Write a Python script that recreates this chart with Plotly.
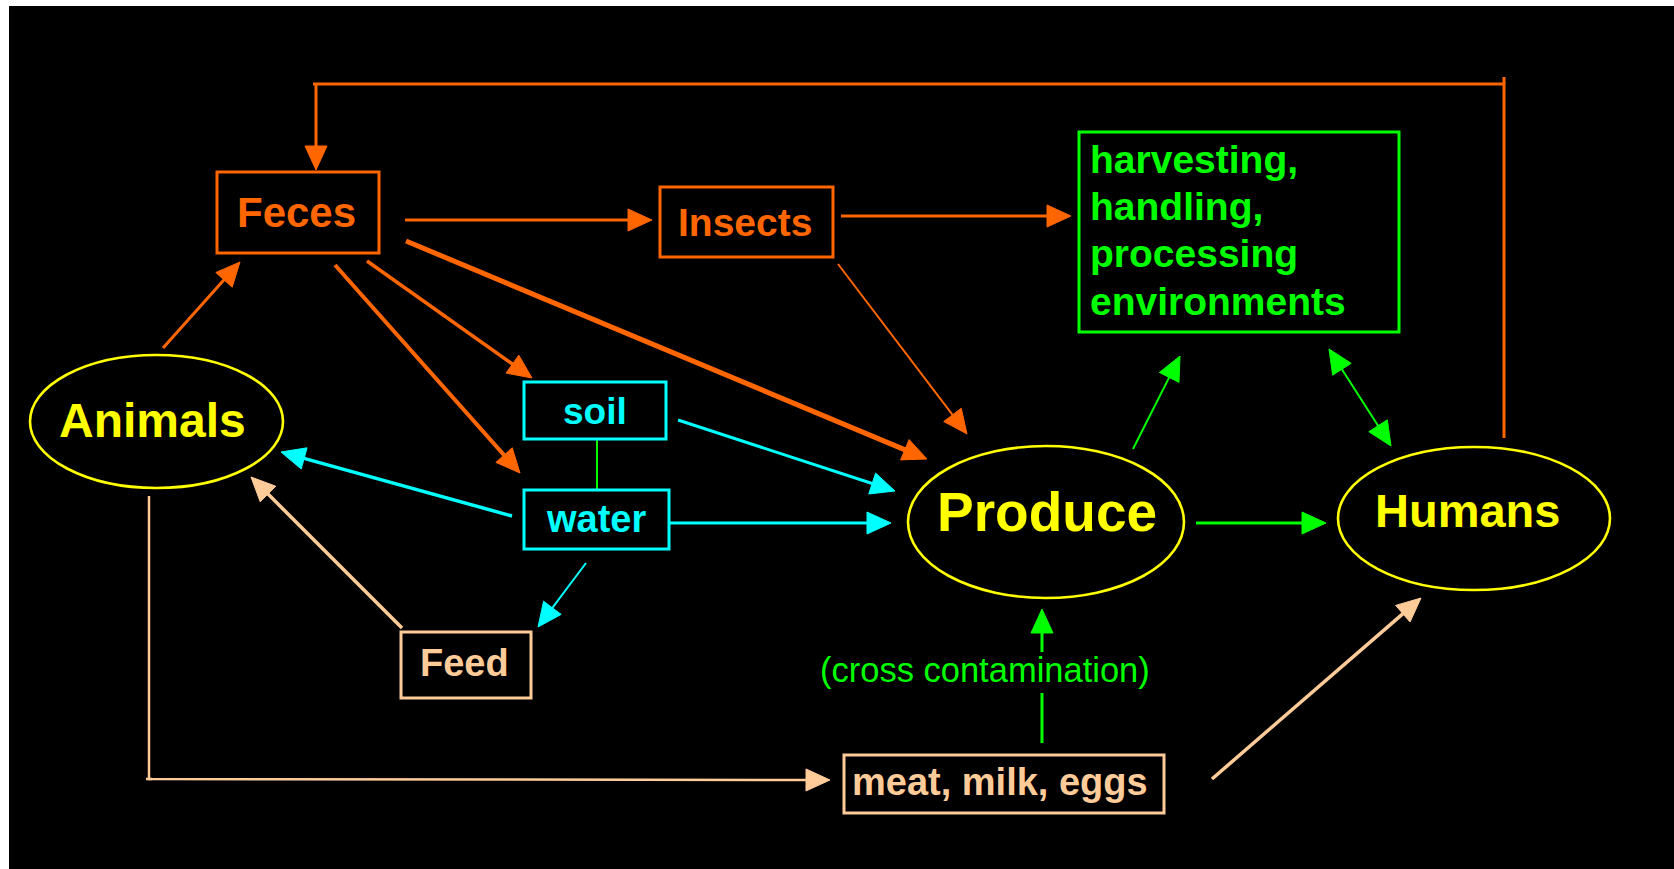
import math
import plotly.graph_objects as go

W, H = 1674, 869

ORANGE = "#FF6600"
CYAN = "#00FFFF"
PEACH = "#FFCC99"
GREEN = "#00FF00"
YELLOW = "#FFFF00"
FONT = "Liberation Sans, Arial, sans-serif"

# ---- nodes (label, colour, shape) ----
node_names = ["Feces", "Insects", "harv", "Animals", "Produce", "Humans",
              "soil", "water", "Feed", "meat"]
node_colors = [ORANGE, ORANGE, GREEN, YELLOW, YELLOW, YELLOW,
               CYAN, CYAN, PEACH, PEACH]
node_shapes = ["rect", "rect", "rect", "circle", "circle", "circle",
               "rect", "rect", "rect", "rect"]

# layout: bounding boxes of nodes (x0, y0, x1, y1) in page pixels
node_boxes = {
    "Feces": (217, 172, 379, 253),
    "Insects": (660, 187, 833, 257),
    "harv": (1079, 132, 1399, 332),
    "Animals": (30, 355, 283, 488),
    "Produce": (908, 446, 1184, 598),
    "Humans": (1338, 447, 1610, 590),
    "soil": (524, 382, 666, 439),
    "water": (524, 490, 669, 549),
    "Feed": (401, 632, 531, 698),
    "meat": (844, 755, 1164, 813),
}
node_lw = {"circle": 2.6, "rect": 3}

# ---- texts ----
text_labels = ["Feces", "Insects", "Animals", "Produce", "Humans", "soil",
               "water", "Feed", "meat, milk, eggs", "(cross contamination)"]
text_colors = [ORANGE, ORANGE, YELLOW, YELLOW, YELLOW, CYAN, CYAN, PEACH,
               PEACH, GREEN]
text_bold = [True, True, True, True, True, True, True, True, True, False]
text_pos = [(296, 212, 42), (745, 222, 39), (152, 420, 48), (1047, 512, 55),
            (1467, 510, 47), (595, 411, 37), (596, 519, 38), (464, 663, 38),
            (1000, 782, 38), (985, 670, 34.5)]

harv_lines = ["harvesting,", "handling,", "processing", "environments"]
harv_pos = [(1088, 159), (1088, 206), (1088, 253), (1088, 301)]
harv_size = 39

# ---- edges ----
edge_names = ["Animals>Feces", "Feces>Insects", "Insects>harv", "Feces>Produce",
              "Feces>soil", "Feces>water", "Insects>Produce", "soil>Produce",
              "water>Produce", "water>Animals", "water>Feed", "Feed>Animals",
              "meat>Humans", "Produce>harv", "Produce>Humans", "meat>Produce",
              "harv<>Humans", "Humans>Feces", "Animals>meat"]
edge_colors = [ORANGE, ORANGE, ORANGE, ORANGE, ORANGE, ORANGE, ORANGE,
               CYAN, CYAN, CYAN, CYAN, PEACH, PEACH,
               GREEN, GREEN, GREEN, GREEN, ORANGE, PEACH]
edge_widths = [3, 3, 3, 5, 3.5, 4, 2, 3, 3, 3.5, 2, 3.5, 3.5, 2, 3, 3, 2, 3, 2.5]
edge_heads = ["end", "end", "end", "end", "end", "end", "end", "end", "end",
              "end", "end", "end", "end", "end", "end", "end", "both", "end", "end"]

# layout: edge paths in page pixels
edge_paths = [
    [(163, 348), (240, 262)],
    [(405, 220), (652, 220)],
    [(841, 216), (1071, 216)],
    [(406, 241), (927, 459)],
    [(367, 261), (532, 378)],
    [(335, 265), (520, 473)],
    [(838, 264), (967, 434)],
    [(678, 420), (895, 491)],
    [(670, 523), (891, 523)],
    [(512, 516), (281, 452)],
    [(586, 563), (538, 627)],
    [(402, 628), (251, 477)],
    [(1212, 779), (1421, 598)],
    [(1133, 449), (1180, 356)],
    [(1196, 523), (1326, 523)],
    [(1042, 652), (1042, 609)],
    [(1329, 349), (1391, 446)],
    [(1504, 438), (1504, 84), (313, 84), (316, 84), (316, 170)],
    [(149, 496), (149, 779), (830, 780)],
]
extra_lines = [  # (path, colour, width)
    ([(1042, 693), (1042, 743)], GREEN, 3),
    ([(597, 440), (597, 490)], GREEN, 2),
    ([(1504, 77), (1504, 84)], ORANGE, 3),
    ([(146, 779), (152, 779)], PEACH, 2.5),
]
HEAD_L, HEAD_W = 24, 11

fig = go.Figure()
shapes = [dict(type="rect", xref="x", yref="y", x0=9, y0=6, x1=W + 5, y1=H + 5,
               fillcolor="black", line=dict(width=0), layer="below")]

for name, col, shp in zip(node_names, node_colors, node_shapes):
    x0, y0, x1, y1 = node_boxes[name]
    shapes.append(dict(type=shp, xref="x", yref="y", x0=x0, y0=y0, x1=x1, y1=y1,
                       line=dict(color=col, width=node_lw[shp]),
                       fillcolor="rgba(0,0,0,0)"))


def head(tip, prev):
    dx, dy = tip[0] - prev[0], tip[1] - prev[1]
    d = math.hypot(dx, dy)
    ux, uy = dx / d, dy / d
    bx, by = tip[0] - HEAD_L * ux, tip[1] - HEAD_L * uy
    px, py = -uy, ux
    return [(tip[0], tip[1]), (bx + HEAD_W * px, by + HEAD_W * py),
            (bx - HEAD_W * px, by - HEAD_W * py), (tip[0], tip[1])]


def shorten(a, b, amt):
    dx, dy = b[0] - a[0], b[1] - a[1]
    d = math.hypot(dx, dy)
    return (b[0] - amt * dx / d, b[1] - amt * dy / d)


tri = {}
for name, col, lw, hd, path in zip(edge_names, edge_colors, edge_widths,
                                   edge_heads, edge_paths):
    pts = list(path)
    heads = [head(pts[-1], pts[-2])]
    pts[-1] = shorten(pts[-2], pts[-1], HEAD_L * 0.8)
    if hd == "both":
        heads.append(head(path[0], path[1]))
        pts[0] = shorten(pts[1], pts[0], HEAD_L * 0.8)
    fig.add_trace(go.Scatter(x=[p[0] for p in pts], y=[p[1] for p in pts],
                             mode="lines", line=dict(color=col, width=lw),
                             hoverinfo="skip", showlegend=False))
    for h in heads:
        tri.setdefault(col, []).append(h)

for path, col, lw in extra_lines:
    fig.add_trace(go.Scatter(x=[p[0] for p in path], y=[p[1] for p in path],
                             mode="lines", line=dict(color=col, width=lw),
                             hoverinfo="skip", showlegend=False))

for col, hs in tri.items():
    xs, ys = [], []
    for h in hs:
        xs += [p[0] for p in h] + [None]
        ys += [p[1] for p in h] + [None]
    fig.add_trace(go.Scatter(x=xs, y=ys, mode="lines", fill="toself",
                             fillcolor=col, line=dict(color=col, width=1),
                             hoverinfo="skip", showlegend=False))

annotations = []
for lab, col, b, (x, y, s) in zip(text_labels, text_colors, text_bold, text_pos):
    annotations.append(dict(x=x, y=y, xref="x", yref="y", showarrow=False,
                            text=f"<b>{lab}</b>" if b else lab,
                            font=dict(family=FONT, size=s, color=col),
                            xanchor="center", yanchor="middle"))
for lab, (x, y) in zip(harv_lines, harv_pos):
    annotations.append(dict(x=x, y=y, xref="x", yref="y", showarrow=False,
                            text=f"<b>{lab}</b>",
                            font=dict(family=FONT, size=harv_size, color=GREEN),
                            xanchor="left", yanchor="middle"))

fig.update_layout(
    width=W, height=H, margin=dict(l=0, r=0, t=0, b=0),
    paper_bgcolor="white", plot_bgcolor="white",
    xaxis=dict(range=[0, W], visible=False, fixedrange=True),
    yaxis=dict(range=[H, 0], visible=False, fixedrange=True),
    shapes=shapes, annotations=annotations, showlegend=False,
)
fig.write_html(
    "out.html",
    config={"displayModeBar": False},
    post_script="document.body.style.margin='0';"
                "document.body.style.overflow='hidden';",
)
